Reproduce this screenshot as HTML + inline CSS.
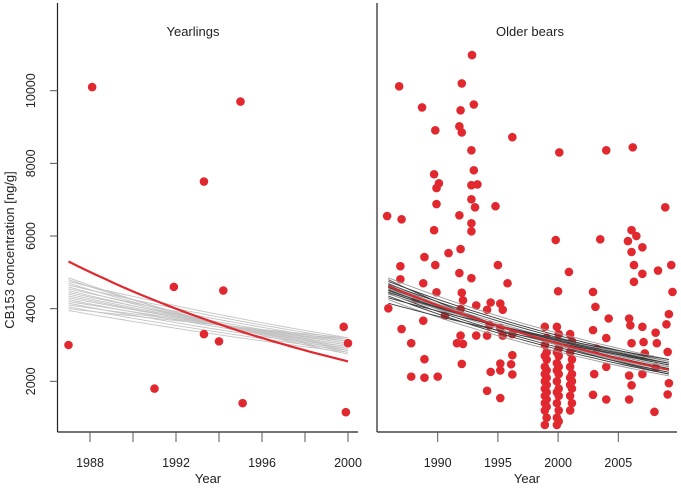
<!DOCTYPE html>
<html><head><meta charset="utf-8">
<style>
html,body{margin:0;padding:0;background:#fff;}
svg{display:block;font-family:"Liberation Sans",Arial,sans-serif;}
</style></head>
<body>
<svg id="chart" width="681" height="490" viewBox="0 0 681 490" xmlns="http://www.w3.org/2000/svg">
<text x="0" y="0" transform="translate(14,250) rotate(-90)" text-anchor="middle" font-size="13" fill="#222">CB153 concentration [ng/g]</text>
<text x="193" y="36" text-anchor="middle" font-size="13" fill="#222">Yearlings</text>
<text x="530" y="36" text-anchor="middle" font-size="13" fill="#222">Older bears</text>
<text x="208" y="483" text-anchor="middle" font-size="13" fill="#222">Year</text>
<text x="527" y="483" text-anchor="middle" font-size="13" fill="#222">Year</text>
</svg>
<script>
// ---- data ----
const yTicks = [2000, 4000, 6000, 8000, 10000];
const leftXTicks = [1988, 1990, 1992, 1994, 1996, 1998, 2000];
const leftXLabels = [1988, 1992, 1996, 2000];
const rightXTicks = [1990, 1995, 2000, 2005];
const yearlingYears = [1987, 1988.1, 1991, 1991.9, 1993.3, 1993.3, 1994, 1994.2, 1995, 1995.1, 1999.8, 1999.9, 2000];
const yearlingValues = [3000, 10100, 1800, 4600, 7500, 3300, 3100, 4500, 9700, 1400, 3500, 1150, 3050];
const yearlingGreyStart = [4850, 4800, 4750, 4700, 4650, 4600, 4550, 4500, 4450, 4400, 4350, 4300, 4250, 4200, 4150, 4100, 4050, 4000, 3950];
const yearlingGreyEnd = [2750, 2800, 3200, 2850, 3150, 2900, 3100, 2950, 3050, 3000, 3000, 3050, 2950, 3100, 2900, 3150, 2850, 3200, 2800];
const yearlingRed = [5300, 2550];
const olderYears = [1992.85,1986.8,1992.0,1988.7,1993.0,1991.9,1989.8,1991.8,1992.0,1996.2,2000.1,2004.0,2006.2,1992.8,1989.7,1993.0,1990.1,1989.9,1992.8,1993.3,1992.8,1989.9,1993.1,1994.8,1985.8,1987.0,1989.7,1991.8,1992.8,2008.9,1992.8,1999.8,2006.1,2006.5,2005.8,2003.5,
1986.9,1986.9,1988.9,1989.8,1990.9,1991.9,1991.8,1992.8,1995.0,1995.8,2000.9,2000.0,2002.9,2006.1,2007.0,2006.3,2007.0,2008.3,2009.4,2006.3,2009.5,
1985.9,1988.2,1988.8,1989.9,1990.6,1988.8,1987.0,1987.8,1988.9,1987.8,1988.9,1990.0,1991.6,1992.0,1992.1,1991.9,1991.9,1992.1,1992.0,1993.2,1993.2,1994.1,1994.4,1995.2,1995.4,1994.1,1994.3,1995.2,1995.4,1996.2,1996.2,1996.1,1996.2,1995.2,1995.2,1994.4,1994.1,1995.2,
2002.9,2003.1,2004.2,2004.0,2003.2,2003.0,2004.0,2002.9,2004.0,2005.9,2006.0,2006.1,2005.9,2006.1,2005.9,2007.0,2007.1,2007.2,2007.0,2008.1,2008.2,2008.0,2009.0,2009.2,2009.1,2009.2,2009.1,2008.1];
const olderValues = [10980,10120,10200,9540,9620,9460,8910,9020,8850,8720,8300,8360,8440,8360,7700,7810,7450,7320,7400,7420,7010,6880,6790,6820,6550,6460,6160,6570,6350,6790,6130,5890,6160,6000,5860,5910,
5170,4810,5420,5200,5530,5640,4980,4840,5200,4700,5010,4480,4460,5560,5690,5200,4960,5050,5200,4740,4460,
4010,4260,4700,4450,3810,3670,3440,3050,2610,2130,2100,2130,3050,4440,4230,3990,3260,3030,2480,3260,4090,3970,4170,4140,3970,3260,3540,3460,3260,3300,2720,2470,2190,2490,2300,2260,1740,1540,
3410,4050,3730,3190,2900,2200,2400,1630,1500,3730,3540,3050,2160,1890,1500,3500,3080,2770,2200,3340,3050,1160,3570,3850,2810,1950,1640,2380];
const cluster1999 = [3500,3200,3000,2800,2700,2600,2400,2300,2200,2100,2000,1900,1800,1700,1600,1500,1400,1300,1200,1000,800];
const cluster2000 = [3500,3300,3100,2900,2800,2700,2500,2400,2300,2200,2000,1800,1700,1600,1400,1200,1000,900,800];
const cluster2001 = [3300,3100,3000,2900,2800,2600,2400,2200,2100,2000,1900,1800,1600,1400,1200];
const olderLineYears = [1985.9, 2009.2];
const olderGreyStart = [4850,4800,4750,4700,4680,4650,4620,4600,4580,4550,4520,4500,4480,4450,4420,4400,4350,4300,4250,4150];
const olderGreyEnd = [2600,2200,2550,2250,2500,2300,2450,2350,2400,2400,2350,2450,2300,2500,2250,2550,2200,2600,2150,2500];
const olderRed = [4620, 2320];

// ---- axes ----
const NS = "http://www.w3.org/2000/svg";
const svg = document.getElementById('chart');
const yScale = v => 454 - v * 0.03633;
const xLeft = y => 68.5 + (y - 1987) * 21.5;
const xRight = y => 437.7 + (y - 1990) * 12.04;
function mk(tag, attrs){const e=document.createElementNS(NS,tag);for(const k in attrs)e.setAttribute(k,attrs[k]);svg.appendChild(e);return e;}

let e;
e = mk('line',{x1:57.5,y1:3,x2:57.5,y2:432,stroke:'#222','stroke-width':1.2});


e = mk('line',{x1:57.5,y1:432,x2:358,y2:432,stroke:'#222','stroke-width':1.2});


e = mk('line',{x1:377,y1:3,x2:377,y2:432,stroke:'#222','stroke-width':1.2});


e = mk('line',{x1:377,y1:432,x2:677,y2:432,stroke:'#222','stroke-width':1.2});



yTicks.forEach(v=>{
  const y=yScale(v);
  e = mk('line',{x1:50,y1:y,x2:57.5,y2:y,stroke:'#555','stroke-width':1});
  
  
  e = mk('text',{transform:`translate(35,${y}) rotate(-90)`,'text-anchor':'middle','font-size':12.5,fill:'#222'});
  e.textContent=v;
  
  
});
leftXTicks.forEach(yr=>{
  const x=xLeft(yr);
  e = mk('line',{x1:x,y1:432,x2:x,y2:442,stroke:'#555','stroke-width':1});
  
  
});
leftXLabels.forEach(yr=>{
  e = mk('text',{x:xLeft(yr),y:467,'text-anchor':'middle','font-size':12.5,fill:'#222'});
  e.textContent=yr;
  
  
});
rightXTicks.forEach(yr=>{
  const x=xRight(yr);
  e = mk('line',{x1:x,y1:432,x2:x,y2:442,stroke:'#555','stroke-width':1});
  
  
  e = mk('text',{x:x,y:467,'text-anchor':'middle','font-size':12.5,fill:'#222'});
  e.textContent=yr;
  
  
});

function curve(xs, x0, x1, v0, v1){
  const pts=[];
  for(let i=0;i<=30;i++){
    const t=i/30, yr=x0+(x1-x0)*t, v=v0*Math.pow(v1/v0,t);
    pts.push(xs(yr).toFixed(1)+','+yScale(v).toFixed(1));
  }
  return pts.join(' ');
}
// left lines
yearlingGreyStart.forEach((s,i)=>{
  e = mk('polyline',{points:curve(xLeft,1987,2000,s,yearlingGreyEnd[i]),fill:'none',stroke:'#c4c4c4','stroke-width':0.9});
  
  
});
e = mk('polyline',{points:curve(xLeft,1987,2000,yearlingRed[0],yearlingRed[1]),fill:'none',stroke:'#e0282e','stroke-width':2.2});



function dot(x,y,name){
  e = mk('circle',{cx:x,cy:y,r:4.3,fill:'#e0282e'});
  
  
}
yearlingYears.forEach((yr,i)=>dot(xLeft(yr),yScale(yearlingValues[i]),'yearling-point'));

// right points
olderYears.forEach((yr,i)=>dot(xRight(yr),yScale(olderValues[i]),'older-point'));
cluster1999.forEach((v,i)=>dot(xRight(1998.9+(i%2)*0.15),yScale(v),'older-point'));
cluster2000.forEach((v,i)=>dot(xRight(1999.9+(i%2)*0.15),yScale(v),'older-point'));
cluster2001.forEach((v,i)=>dot(xRight(2001.0+(i%2)*0.15),yScale(v),'older-point'));

// right lines
olderGreyStart.forEach((s,i)=>{
  e = mk('polyline',{points:curve(xRight,olderLineYears[0],olderLineYears[1],s,olderGreyEnd[i]),fill:'none',stroke:i%3===0?'#9a9a9a':'#3a3a3a','stroke-width':0.9});
  
  
});
e = mk('polyline',{points:curve(xRight,olderLineYears[0],olderLineYears[1],olderRed[0],olderRed[1]),fill:'none',stroke:'#e0282e','stroke-width':2});


</script>
</body></html>
